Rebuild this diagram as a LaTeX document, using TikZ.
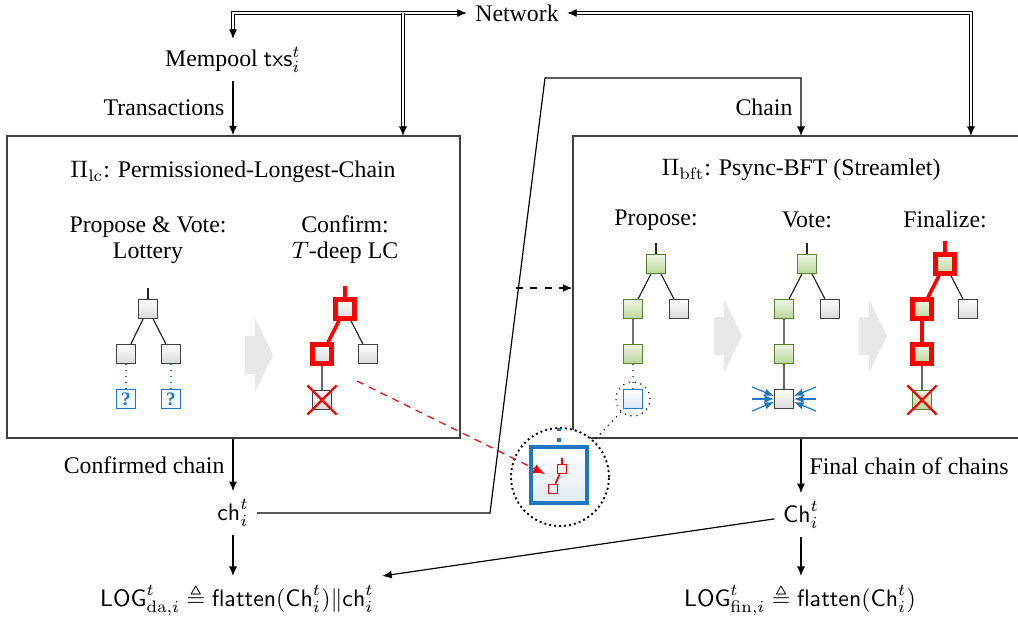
\documentclass[tikz,border=0pt]{standalone}
\usepackage{amsmath}
\usepackage{amssymb}
\usepackage[no-math]{fontspec}
\setmainfont{Liberation Serif}
\usetikzlibrary{arrows.meta, shapes.misc}
\definecolor{bluline}{HTML}{1F77C4}
\definecolor{grnline}{HTML}{5B7F33}
\definecolor{grntop}{HTML}{EEF5E4}
\definecolor{grnbot}{HTML}{BCD59A}
\newlength{\px}
\setlength{\px}{0.42pt}
\tikzset{
  pbox/.style={rectangle, draw=black!75, line width=0.6pt, inner sep=0pt},
  blk/.style={rectangle, draw=black!75, top color=white, bottom color=gray!30, minimum size=19\px, inner sep=0pt},
  grn/.style={rectangle, draw=grnline, top color=grntop, bottom color=grnbot, minimum size=19\px, inner sep=0pt},
  newblk/.style={rectangle, draw=bluline, top color=white, bottom color=bluline!18, minimum size=19\px, inner sep=0pt},
  qbox/.style={rectangle, draw=bluline, fill=bluline!6, text=bluline, font=\footnotesize\bfseries, minimum size=19\px, inner sep=0pt},
  redframe/.style={draw=red, line width=1.8pt},
  redline/.style={red, line width=1.5pt},
  xout/.style={cross out, draw=red, line width=0.9pt, minimum size=27\px, inner sep=0pt},
  tline/.style={black!85, line width=0.5pt},
  votearr/.style={bluline, line width=0.5pt, -{Latex[length=4pt,width=3.2pt]}},
  dbl/.style={double, double distance=1pt, line width=0.45pt, shorten <=3pt, shorten >=3pt},
  bigarr/.pic={\fill[gray!18] (-14,-19) -- (-4,-19) -- (-4,-37) -- (14,0) -- (-4,37) -- (-4,19) -- (-14,19) -- cycle;}
}

\begin{document}
\begin{tikzpicture}[x=0.42pt, y=-0.42pt, line width=0.5pt, >={Latex[length=4pt,width=3.4pt]}]
\useasboundingbox (0,0) rectangle (1018,618);

% the two protocol boxes
\node[pbox, minimum width=453\px, minimum height=302\px] (lc) at (233.5,287) {};
\node[pbox, minimum width=457\px, minimum height=302\px] (bft) at (801.5,287) {};
\node[circle, draw, fill=white, line width=0.8pt, dash pattern=on 0.8pt off 1.3pt, minimum size=98\px, inner sep=0pt] (zcirc) at (560,477) {};

% network and mempool
\node (net) at (517,13) {Network};
\node (mem) at (233,60) {Mempool $\mathsf{txs}_i^t$};
\coordinate (lcnet) at (403,136);
\coordinate (bftnet) at (971,136);
\coordinate (bftch) at (801,136);
\draw[dbl] (mem.north) |- (net.west);
\draw[dbl, shorten <=0pt] (lcnet |- net.west) -- (lcnet);
\draw[dbl] (net.east) -| (bftnet);
\draw[->] ([yshift=4pt]mem.north) -- (mem.north);
\draw[->] ([xshift=-4pt]net.west) -- (net.west);
\draw[->] ([yshift=4pt]lcnet) -- (lcnet);
\draw[->] ([xshift=4pt]net.east) -- (net.east);
\draw[->] ([yshift=4pt]bftnet) -- (bftnet);
\draw[->] (mem) -- node[left] {Transactions} (mem |- lc.north);

% Pi_lc
\node (lctitle) at (233,172) {$\Pi_{\mathrm{lc}}$: Permissioned-Longest-Chain};
\node[align=center] (lcprop) at (148,240) {Propose \& Vote:\\[-1pt]Lottery};
\node[align=center] (lcconf) at (345,240) {Confirm:\\[-1pt]$T$-deep LC};

\node[blk] (a0) at (148,309) {};
\node[blk] (a1) at (126,354) {};
\node[blk] (a2) at (171,354) {};
\node[qbox] (a3) at (126,399) {?};
\node[qbox] (a4) at (171,399) {?};
\draw[tline] (a0.north) -- ++(0,-11);
\draw[tline] (a0) -- (a1) (a0) -- (a2);
\draw[bluline, dotted] (a1) -- (a3) (a2) -- (a4);

\pic at (259,355) {bigarr};

\node[blk, redframe] (b0) at (345,309) {};
\node[blk, redframe] (b1) at (322,354) {};
\node[blk] (b2) at (368,354) {};
\node[blk] (b3) at (322,400) {};
\node[xout] at (b3) {};
\draw[redline] (b0.north) -- ++(0,-11);
\draw[redline] (b0) -- (b1);
\draw[tline] (b0) -- (b2);
\draw[black!60] (b1) -- (b3);

% Pi_bft
\node (bfttitle) at (801,170) {$\Pi_{\mathrm{bft}}$: Psync-BFT (Streamlet)};
\node[anchor=base] (pprop) at (656,225) {Propose:};
\node[anchor=base] (pvote) at (807,227) {Vote:};
\node[anchor=base] (pfin) at (945,227) {Finalize:};

\node[grn] (p0) at (656,264) {};
\node[grn] (p1) at (633,309) {};
\node[blk] (p2) at (679,309) {};
\node[grn] (p3) at (633,354) {};
\node[newblk] (p4) at (633,399) {};
\node[circle, draw, dotted, minimum size=34\px, inner sep=0pt] (pcirc) at (p4) {};
\draw[tline] (p0.north) -- ++(0,-11);
\draw[tline] (p0) -- (p1) (p0) -- (p2) (p1) -- (p3);
\draw[bluline, dotted] (p3) -- (p4);

\pic at (728,336) {bigarr};

\node[grn] (v0) at (807,264) {};
\node[grn] (v1) at (784,309) {};
\node[blk] (v2) at (830,309) {};
\node[grn] (v3) at (784,354) {};
\node[blk] (v4) at (784,399) {};
\draw[tline] (v0.north) -- ++(0,-11);
\draw[tline] (v0) -- (v1) (v0) -- (v2) (v1) -- (v3);
\draw[black!60] (v3) -- (v4);
\foreach \d in {-1,0,1} {
  \draw[votearr] ([shift={(-32,12*\d)}]v4.center) -- ([shift={(-10,3*\d)}]v4.center);
  \draw[votearr] ([shift={(32,12*\d)}]v4.center) -- ([shift={(10,3*\d)}]v4.center);
}

\pic at (873,336) {bigarr};

\node[grn, redframe] (f0) at (945,264) {};
\node[grn, redframe] (f1) at (922,309) {};
\node[blk] (f2) at (968,309) {};
\node[grn, redframe] (f3) at (922,354) {};
\node[grn] (f4) at (922,400) {};
\node[xout] at (f4) {};
\draw[redline] (f0.north) -- ++(0,-11);
\draw[redline] (f0) -- (f1) (f1) -- (f3);
\draw[tline] (f0) -- (f2);
\draw[black!60] (f3) -- (f4);

% zoomed-in new block
\node[rectangle, draw=bluline, line width=1.6pt, top color=white, bottom color=bluline!14, minimum size=56\px, inner sep=0pt] (zsq) at (559,475) {};
\draw[bluline, line width=1.4pt, dash pattern=on 1.3pt off 3.2pt] ([yshift=1.5pt]zsq.north) -- ++(0,-16);
\node[rectangle, draw=red, line width=0.7pt, fill=gray!10, minimum size=9\px, inner sep=0pt] (z1) at (562,469) {};
\node[rectangle, draw=red, line width=0.7pt, fill=gray!10, minimum size=9\px, inner sep=0pt] (z2) at (553,489) {};
\draw[red, line width=0.7pt] (z1.north) -- ++(0,-6);
\draw[red, line width=0.7pt] (z1) -- (z2);
\draw[dotted] (pcirc) -- (zcirc);

\coordinate (rdsh) at (357,381);
\coordinate (zin) at (545,474);
\draw[red, dash pattern=on 3pt off 2.5pt, -{Latex[length=5pt,width=4pt]}] (rdsh) -- (zin);

\coordinate (dsh) at (516,288);
\draw[dashed,->] (dsh) -- (dsh -| bft.west);

% outputs
\node (ch) at (233,513) {$\mathsf{ch}_i^t$};
\node (Ch) at (801,515) {$\mathsf{Ch}_i^t$};
\node (logda) at (237,600) {$\mathsf{LOG}_{\mathrm{da},i}^t \triangleq \mathsf{flatten}(\mathsf{Ch}_i^t)\|\mathsf{ch}_i^t$};
\node (logfin) at (800,600) {$\mathsf{LOG}_{\mathrm{fin},i}^t \triangleq \mathsf{flatten}(\mathsf{Ch}_i^t)$};
\coordinate (chlo) at (490,513);
\coordinate (chhi) at (545,78);
\draw[->] (ch |- lc.south) -- node[left] {Confirmed chain} (ch);
\draw[->] (Ch |- bft.south) -- node[right] {Final chain of chains} (Ch);
\draw[->] (ch) -- (chlo) -- (chhi) -| node[pos=0.75, left] {Chain} (bftch);
\draw[->] (ch) -- (ch |- logda.north);
\draw[->] (Ch) -- (Ch |- logfin.north);
\draw[->] (Ch) -- (logda.north east);
\end{tikzpicture}
\end{document}
